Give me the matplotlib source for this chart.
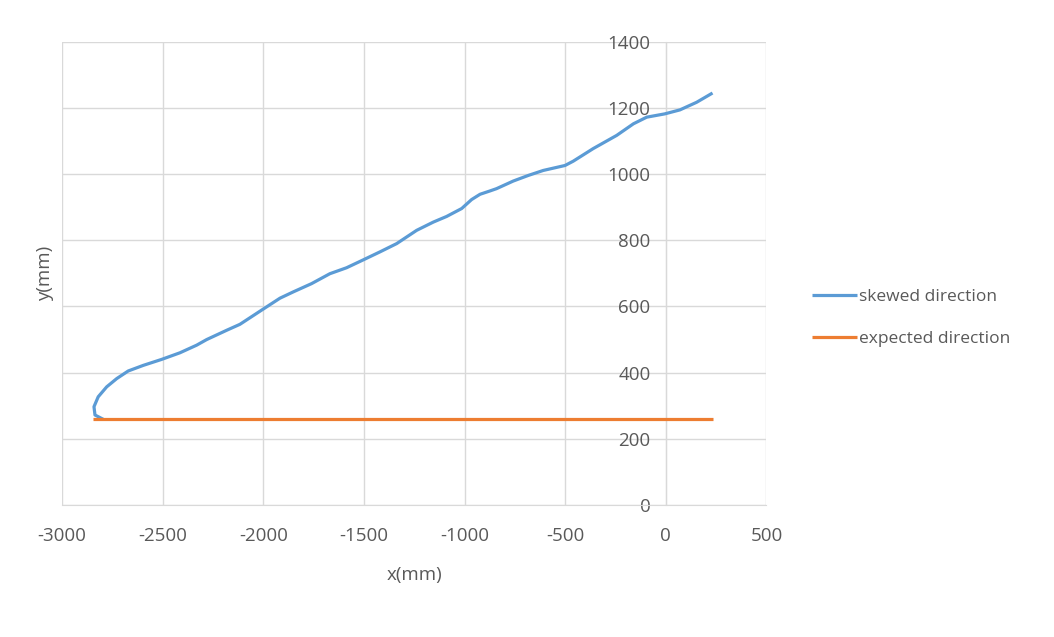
import numpy as np
import matplotlib.pyplot as plt

# %%
# data (mm)
skew_x = [-2795, -2836, -2841, -2820, -2778, -2728, -2671, -2596, -2505, -2414,
          -2331, -2281, -2182, -2116, -2008, -1917, -1851, -1760, -1669, -1586,
          -1506, -1420, -1337, -1238, -1155, -1089, -1014, -965, -923, -874,
          -841, -758, -683, -609, -501, -460, -361, -244, -161, -95,
          -5, 70, 153, 232]
skew_y = [259, 272, 297, 327, 357, 382, 405, 422, 440, 460,
          483, 500, 528, 546, 589, 625, 644, 669, 699, 717,
          740, 765, 790, 830, 855, 872, 896, 923, 939, 949,
          956, 979, 996, 1011, 1026, 1039, 1077, 1117, 1152, 1172,
          1182, 1194, 1217, 1245]
exp_x = [-2845, 235]
exp_y = [260, 260]

x_ticks = [-3000, -2500, -2000, -1500, -1000, -500, 0, 500]
y_ticks = [0, 200, 400, 600, 800, 1000, 1200, 1400]

plt.rcParams['font.family'] = ['Open Sans', 'DejaVu Sans']
plt.rcParams['axes.unicode_minus'] = False

# %%
fig = plt.figure(figsize=(10.54, 6.37), dpi=100)
ax = fig.add_axes([0.0588, 0.2072, 0.6684, 0.7273])

ax.plot(skew_x, skew_y, color='#5B9BD5', lw=2.3, label='skewed direction',
        solid_capstyle='butt', zorder=3)
ax.plot(exp_x, exp_y, color='#ED7D31', lw=2.3, label='expected direction',
        solid_capstyle='butt', zorder=3)

ax.set_xlim(-3000, 500)
ax.set_ylim(0, 1400)
ax.set_xticks(x_ticks)
ax.set_yticks(y_ticks)
ax.grid(True, color='#D9D9D9', lw=1)
ax.set_axisbelow(True)

for s in ['top', 'right']:
    ax.spines[s].set_visible(False)
ax.spines['left'].set_position(('data', 0))
ax.spines['left'].set_color('#D9D9D9')
ax.spines['bottom'].set_color('#D9D9D9')
ax.tick_params(axis='both', length=0, labelsize=13.5, labelcolor='#595959')
ax.tick_params(axis='x', pad=16)
ax.tick_params(axis='y', pad=11)

ax.set_xlabel('x(mm)', fontsize=13.5, color='#595959', labelpad=15)
ax.set_ylabel('y(mm)', fontsize=13.5, color='#595959')
ax.yaxis.set_label_coords(-0.011, 0.5)

fig.legend(loc='center left', bbox_to_anchor=(812/1054, 1 - 318/637),
           frameon=False, fontsize=12.5, handlelength=2.6, handletextpad=0.1,
           labelspacing=1.45, borderpad=0, borderaxespad=0,
           labelcolor='#595959')

plt.savefig('out.png')
